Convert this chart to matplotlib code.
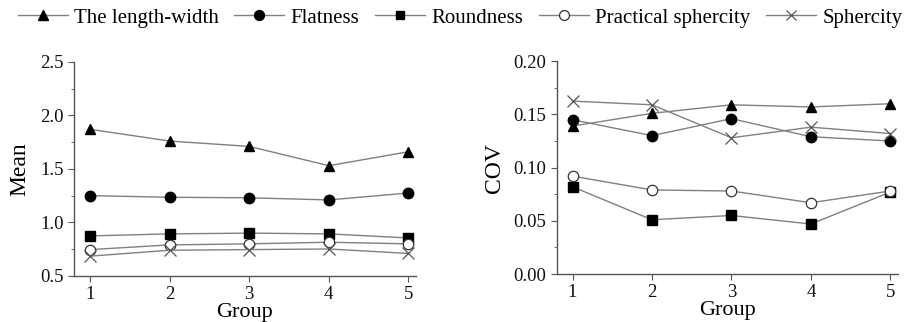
import numpy as np
import matplotlib
matplotlib.use('Agg')
from matplotlib import pyplot as plt
from matplotlib.ticker import MultipleLocator

plt.rcParams['font.family'] = ['Liberation Serif', 'DejaVu Serif']

groups = [1, 2, 3, 4, 5]
names = ['The length-width', 'Flatness', 'Roundness', 'Practical sphercity', 'Sphercity']

# means
mean_lw = [1.87, 1.76, 1.71, 1.53, 1.66]
mean_flat = [1.25, 1.235, 1.23, 1.21, 1.275]
mean_round = [0.874, 0.893, 0.90, 0.893, 0.855]
mean_psph = [0.746, 0.79, 0.80, 0.815, 0.80]
mean_sph = [0.685, 0.74, 0.746, 0.752, 0.71]

# coefficients of variation
cov_lw = [0.139, 0.151, 0.159, 0.157, 0.160]
cov_flat = [0.145, 0.130, 0.146, 0.129, 0.125]
cov_round = [0.082, 0.051, 0.055, 0.047, 0.077]
cov_psph = [0.092, 0.079, 0.078, 0.067, 0.078]
cov_sph = [0.1625, 0.159, 0.128, 0.138, 0.132]

# marker style per series
styles = [
    dict(marker='^', mfc='black', mec='black', ms=7.5),
    dict(marker='o', mfc='black', mec='black', ms=7.5),
    dict(marker='s', mfc='black', mec='black', ms=6.5),
    dict(marker='o', mfc='white', mec='#333333', ms=7.5, mew=0.9),
    dict(marker='x', mfc='none', mec='#555555', ms=8, mew=0.9),
]
linecol = '#808080'

fig = plt.figure(figsize=(9.11, 3.22), dpi=100)
ax1 = fig.add_axes([0.0812, 0.143, 0.375, 0.665])
ax2 = fig.add_axes([0.611, 0.149, 0.375, 0.661])

def style_ax(ax):
    for s in ['top', 'right']:
        ax.spines[s].set_visible(False)
    for s in ['left', 'bottom']:
        ax.spines[s].set_color('#555555')
        ax.spines[s].set_linewidth(1.0)
    ax.tick_params(which='both', direction='out', colors='#555555', labelcolor='#111111', labelsize=13.5)
    ax.tick_params(which='major', length=4.5, pad=3)
    ax.tick_params(which='minor', length=2.5)
    ax.set_xticks(groups)
    ax.set_xlabel('Group', fontsize=16, labelpad=0)

handles = []
for vals, st, nm in zip([mean_lw, mean_flat, mean_round, mean_psph, mean_sph], styles, names):
    h, = ax1.plot(groups, vals, color=linecol, lw=1.0, label=nm, **st)
    handles.append(h)
ax1.set_xlim(0.8, 5.09)
ax1.set_ylim(0.5, 2.5)
ax1.yaxis.set_major_locator(MultipleLocator(0.5))
ax1.yaxis.set_minor_locator(MultipleLocator(0.25))
ax1.set_ylabel('Mean', fontsize=17, labelpad=7)
style_ax(ax1)

for vals, st in zip([cov_lw, cov_flat, cov_round, cov_psph, cov_sph], styles):
    ax2.plot(groups, vals, color=linecol, lw=1.0, **st)
ax2.set_xlim(0.8, 5.1)
ax2.set_ylim(0.0, 0.2)
ax2.yaxis.set_major_locator(MultipleLocator(0.05))
ax2.yaxis.set_minor_locator(MultipleLocator(0.025))
ax2.yaxis.set_major_formatter(matplotlib.ticker.FormatStrFormatter('%.2f'))
ax2.set_ylabel('COV', fontsize=17, labelpad=6)
style_ax(ax2)

fig.legend(handles=handles, loc='center', bbox_to_anchor=(0.505, 0.945), ncol=5,
           frameon=False, fontsize=15, handlelength=2.4, handletextpad=0.3,
           columnspacing=0.75, borderaxespad=0, markerscale=0.95)

plt.savefig('out.png', dpi=100)
